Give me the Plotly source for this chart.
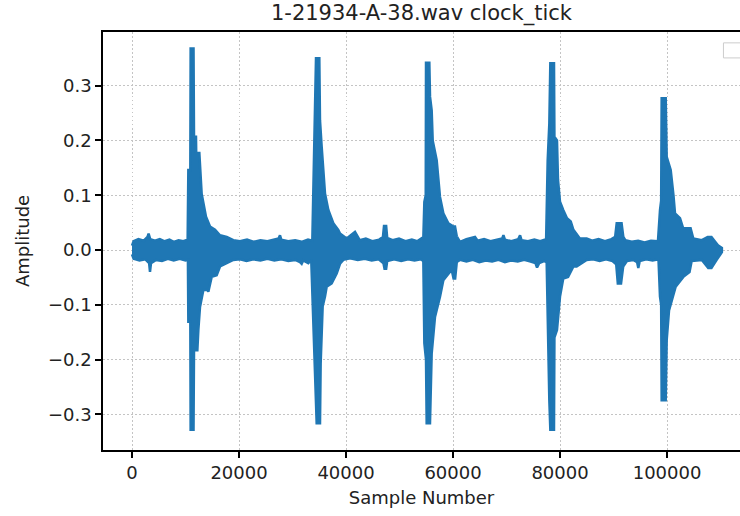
import plotly.graph_objects as go

# ---- Data: amplitude envelope of the waveform ----
# upper envelope (sample number, amplitude)
upper_x = [0, 300, 1200, 2200, 2900, 3100, 3400, 4300, 5200, 6100, 7000, 7800, 8700, 9600, 10400,
           10530, 10900, 10960, 11500, 11590, 11960, 12000, 12585, 13020, 13830, 14580, 15515, 16450, 17700, 18940,
           20200, 21500, 22800, 24000, 25300, 26500, 27400, 27660, 27900, 29200, 30500, 31700, 32900, 33700,
           34016, 34390, 35010, 35136, 35450, 36072, 36696, 37627, 38550, 38875, 40121, 41679, 42560,
           43700, 44900, 46200, 46900, 47100, 47500, 47700, 48700, 49900, 51100, 52300, 53300, 54200,
           54450, 54640, 54900, 54950, 55570, 55700, 56010, 56200, 56944, 57565, 58187, 59122, 60100, 60369, 60700, 61303, 62500, 64107, 64600,
           65800, 67000, 68200, 69200, 69420, 69700, 70900, 72200, 72530, 72800, 74000, 75200, 76300, 77400,
           77690, 77997, 78186, 78872, 78950, 79430, 79620, 79993, 80600, 81300, 82000, 82500, 83700, 84976, 86000,
           87200, 88400, 89600, 90300, 90590, 91500, 91830, 92200, 93400, 94600, 95800, 97000, 98300,
           98683, 98900, 98996, 99750, 99935, 100683, 101200, 101487, 102421, 103000, 104400, 104907, 106500, 107600, 108300, 109000, 109585, 110250]
upper_y = [0.008, 0.016, 0.020, 0.017, 0.024, 0.030, 0.020, 0.017, 0.020, 0.016, 0.019, 0.015, 0.018, 0.016, 0.019,
           0.146, 0.146, 0.368, 0.368, 0.207, 0.207, 0.177, 0.177, 0.103, 0.061, 0.043, 0.037, 0.027, 0.024, 0.018,
           0.016, 0.019, 0.015, 0.018, 0.016, 0.019, 0.021, 0.027, 0.019, 0.016, 0.018, 0.015, 0.019, 0.017,
           0.182, 0.350, 0.350, 0.237, 0.189, 0.103, 0.073, 0.049, 0.037, 0.030, 0.021, 0.033, 0.018,
           0.021, 0.016, 0.019, 0.024, 0.044, 0.044, 0.022, 0.018, 0.021, 0.016, 0.019, 0.016, 0.022,
           0.022, 0.088, 0.100, 0.342, 0.342, 0.280, 0.255, 0.200, 0.164, 0.097, 0.067, 0.049, 0.043, 0.043, 0.025, 0.015, 0.020, 0.024, 0.017,
           0.020, 0.016, 0.019, 0.021, 0.027, 0.019, 0.016, 0.020, 0.027, 0.018, 0.016, 0.019, 0.016, 0.020,
           0.164, 0.231, 0.341, 0.341, 0.207, 0.200, 0.128, 0.088, 0.073, 0.058, 0.052, 0.037, 0.021, 0.021, 0.017,
           0.020, 0.016, 0.020, 0.024, 0.049, 0.049, 0.024, 0.018, 0.015, 0.017, 0.014, 0.017, 0.016,
           0.073, 0.090, 0.277, 0.277, 0.170, 0.146, 0.100, 0.067, 0.058, 0.040, 0.040, 0.021, 0.018, 0.024, 0.024, 0.016, 0.008, 0.004]

# lower envelope (sample number, amplitude)
lower_x = [0, 300, 1400, 2500, 3200, 3364, 3550, 4500, 5600, 6700, 7800, 8900, 10000, 10450,
           10530, 10900, 10960, 11500, 11590, 12215, 12400, 12710, 13335, 14082, 14268, 14891, 15825, 16448, 17695, 18940,
           20200, 21400, 22700, 24000, 25300, 26600, 27900, 29200, 30500, 31400, 31710, 32000, 32950, 33500,
           34016, 34515, 35140, 35260, 35635, 36072, 36384, 37318, 38252, 38875, 39500, 40745,
           42200, 43500, 44800, 46100, 47000, 47200, 47500, 47700, 49000, 50300, 51600, 52800, 54000, 54450,
           54640, 54950, 55073, 55696, 56010, 56631, 57565, 58187, 59745, 60100, 60400, 60700, 61303,
           62500, 63700, 64900, 66100, 67300, 68500, 69700, 70900, 72100, 73300, 74500, 75400, 75700, 76100, 77000, 77500,
           77690, 77997, 78186, 78872, 78950, 79430, 79993, 80600, 81500, 82500, 83100, 84976,
           86200, 87400, 88600, 89800, 90500, 90800, 91400, 91800, 92500, 93700, 94400, 94630, 94900, 96100, 97300, 98400,
           98683, 98900, 98996, 99750, 99935, 100371, 101611, 103047, 104200, 104600, 106500, 107700, 108300, 109273, 110250]
lower_y = [-0.008, -0.016, -0.019, -0.017, -0.024, -0.040, -0.024, -0.018, -0.020, -0.016, -0.019, -0.016, -0.019, -0.018,
           -0.131, -0.131, -0.328, -0.328, -0.183, -0.183, -0.146, -0.104, -0.073, -0.073, -0.076, -0.049, -0.046, -0.030, -0.024, -0.018,
           -0.017, -0.020, -0.017, -0.019, -0.016, -0.019, -0.017, -0.020, -0.018, -0.022, -0.025, -0.019, -0.024, -0.018,
           -0.182, -0.316, -0.316, -0.207, -0.103, -0.085, -0.067, -0.061, -0.043, -0.025, -0.018, -0.015,
           -0.018, -0.016, -0.019, -0.017, -0.024, -0.034, -0.034, -0.020, -0.017, -0.020, -0.017, -0.019, -0.017, -0.020,
           -0.170, -0.200, -0.316, -0.316, -0.189, -0.122, -0.085, -0.055, -0.036, -0.052, -0.052, -0.022, -0.018,
           -0.021, -0.018, -0.022, -0.019, -0.021, -0.018, -0.022, -0.019, -0.021, -0.018, -0.021, -0.024, -0.032, -0.024, -0.020, -0.022,
           -0.146, -0.274, -0.328, -0.328, -0.160, -0.146, -0.085, -0.052, -0.049, -0.030, -0.030, -0.018,
           -0.017, -0.020, -0.017, -0.020, -0.026, -0.061, -0.061, -0.030, -0.020, -0.018, -0.022, -0.033, -0.020, -0.017, -0.019, -0.017,
           -0.085, -0.100, -0.274, -0.274, -0.164, -0.110, -0.067, -0.049, -0.040, -0.020, -0.018, -0.033, -0.033, -0.018, -0.004]

x_ticks = [0, 20000, 40000, 60000, 80000, 100000]
y_ticks = [-0.3, -0.2, -0.1, 0.0, 0.1, 0.2, 0.3]
title_text = "1-21934-A-38.wav clock_tick"

BLUE = "#1f77b4"
FONT = "DejaVu Sans"

poly_x = upper_x + lower_x[::-1]
poly_y = upper_y + lower_y[::-1]

fig = go.Figure()
fig.add_trace(go.Scatter(
    x=poly_x, y=poly_y, mode="lines", fill="toself", fillcolor=BLUE,
    line=dict(color=BLUE, width=2.5), showlegend=False, hoverinfo="skip"))

fig.update_layout(
    width=740, height=516,
    margin=dict(l=103, r=0, t=32, b=66),
    paper_bgcolor="white", plot_bgcolor="white",
    font=dict(family=FONT, size=18, color="#222"),
    title=dict(text=title_text, x=0.5, xref="paper", xanchor="center",
               y=1 - 13 / 516, yref="container", yanchor="middle",
               font=dict(family=FONT, size=21, color="#222")),
    showlegend=False,
)
fig.update_xaxes(
    range=[-5420, 113635], tickvals=x_ticks, tickformat="d",
    showline=True, linecolor="black", linewidth=1.5, mirror=True,
    ticks="outside", ticklen=6, tickwidth=1.5, tickcolor="black",
    showgrid=True, gridcolor="#c4c4c4", griddash="1.5px,2.5px", gridwidth=1.2,
    zeroline=False,
    title=dict(text="Sample Number", font=dict(size=18), standoff=9),
)
fig.update_yaxes(
    range=[-0.365, 0.398], tickvals=y_ticks, tickformat=".1f",
    showline=True, linecolor="black", linewidth=1.5, mirror=False,
    ticks="outside", ticklen=6, tickwidth=1.5, tickcolor="black",
    showgrid=True, gridcolor="#c4c4c4", griddash="1.5px,2.5px", gridwidth=1.2,
    zeroline=False,
    title=dict(text="Amplitude", font=dict(size=18), standoff=14),
)
# empty legend frame (partially visible at the right edge)
fig.add_shape(type="rect", xref="paper", yref="paper",
              x0=0.974, x1=1.06, y0=0.938, y1=0.974,
              line=dict(color="#cccccc", width=1), fillcolor="rgba(255,255,255,0.8)")

fig.write_html("out.html")
